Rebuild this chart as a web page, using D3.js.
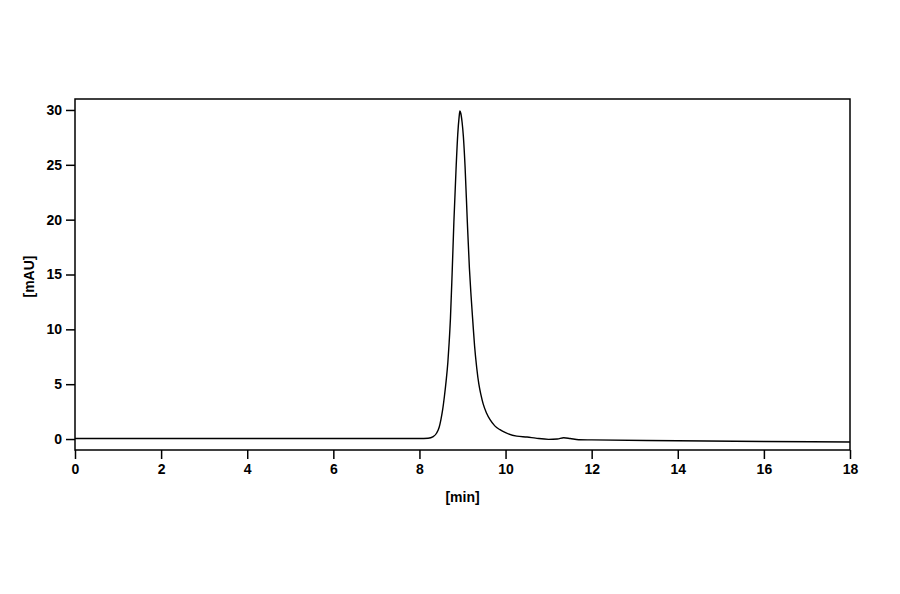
<!DOCTYPE html>
<html>
<head>
<meta charset="utf-8">
<script src="https://cdn.jsdelivr.net/npm/d3@7"></script>
<style>
	body { margin: 0; background: #fff; }
	.tick text { font-family: "Liberation Sans", Arial, sans-serif; font-weight: bold; font-size: 14px; fill: #000; }
	.lbl { font-family: "Liberation Sans", Arial, sans-serif; font-weight: bold; font-size: 14px; fill: #000; }
</style>
</head>
<body>
<script>
// chromatogram
let time = [0, 2, 4, 6, 8, 8.2, 8.32, 8.4, 8.46, 8.5, 8.54, 8.58, 8.62, 8.66, 8.69, 8.72, 8.76, 8.8, 8.85, 8.89, 8.92, 8.94,
	8.96, 8.99, 9.02, 9.06, 9.11, 9.16, 9.2, 9.24, 9.28, 9.33, 9.38, 9.43, 9.48, 9.56, 9.64, 9.75, 9.87, 10, 10.26, 10.5, 10.7, 11, 11.2,
	11.35, 11.5, 11.7, 12, 14, 16, 18]
let signal = [0.05, 0.05, 0.05, 0.05, 0.05, 0.07, 0.22, 0.55, 1.1, 1.8, 2.7, 3.9, 5.3, 7.0, 8.8, 11.0, 15.2, 19.8, 24.6, 27.8, 29.3, 29.9,
	29.7, 28.9, 27.6, 24.8, 20.0, 15.6, 13.0, 10.7, 8.5, 6.5, 5.0, 4.0, 3.2, 2.35, 1.76, 1.2, 0.85, 0.58, 0.26, 0.18, 0.08, -0.03, 0.0,
	0.12, 0.05, -0.06, -0.08, -0.16, -0.22, -0.27]

let xTicks = [0, 2, 4, 6, 8, 10, 12, 14, 16, 18]
let yTicks = [0, 5, 10, 15, 20, 25, 30]

let W = 900, H = 594
let x0 = 75, x1 = 850, y0 = 99, y1 = 450

let svg = d3.select('body').append('svg').attr('width', W).attr('height', H)

let x = d3.scaleLinear().domain([0, 18]).range([x0, x1])
let y = d3.scaleLinear().domain([-1, 31]).range([y1, y0])

let gx = svg.append('g').attr('transform', `translate(0, ${y1})`)
	.call(d3.axisBottom(x).tickValues(xTicks).tickSize(9).tickSizeOuter(0).tickPadding(5))
let gy = svg.append('g').attr('transform', `translate(${x0}, 0)`)
	.call(d3.axisLeft(y).tickValues(yTicks).tickSize(9).tickSizeOuter(0).tickPadding(4))
gx.select('.domain').remove()
gy.select('.domain').remove()
svg.selectAll('.tick line').attr('stroke', '#000').attr('stroke-width', 1.5)

svg.append('rect')
	.attr('x', x0).attr('y', y0)
	.attr('width', x1 - x0).attr('height', y1 - y0)
	.attr('fill', 'none').attr('stroke', '#000').attr('stroke-width', 1.5)

let pts = time.map((t, i) => [t, signal[i]])
let line = d3.line().x(d => x(d[0])).y(d => y(d[1])).curve(d3.curveMonotoneX)

svg.append('path')
	.attr('d', line(pts))
	.attr('fill', 'none').attr('stroke', '#000').attr('stroke-width', 1.4)

svg.append('text').attr('class', 'lbl')
	.attr('x', (x0 + x1) / 2).attr('y', 502)
	.attr('text-anchor', 'middle').text('[min]')

svg.append('text').attr('class', 'lbl')
	.attr('transform', `translate(34, ${(y0 + y1) / 2 + 2}) rotate(-90)`)
	.attr('text-anchor', 'middle').text('[mAU]')
</script>
</body>
</html>
